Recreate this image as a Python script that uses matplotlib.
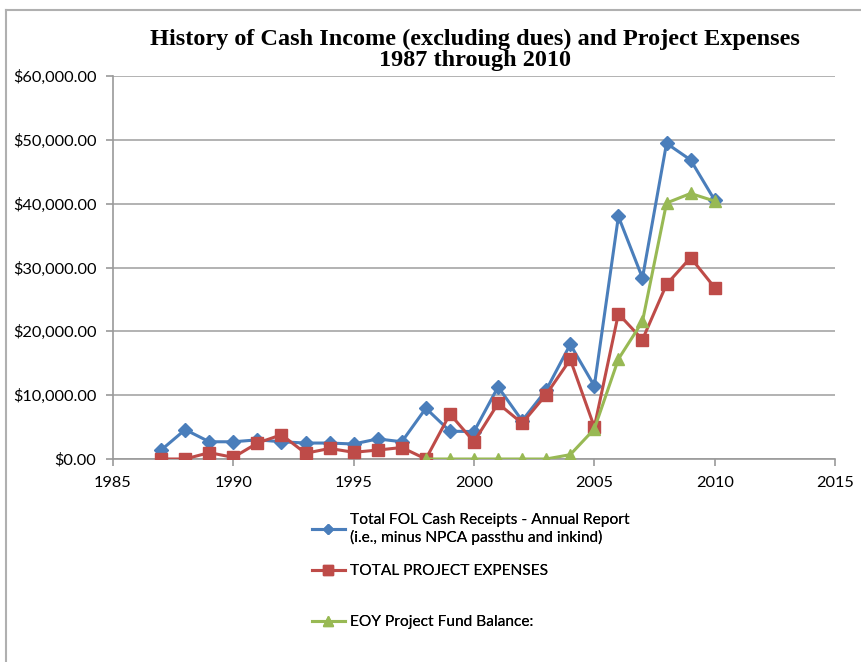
import matplotlib
matplotlib.use("Agg")
import matplotlib.pyplot as plt
from matplotlib.lines import Line2D
from matplotlib.ticker import FuncFormatter

years = list(range(1987, 2011))
receipts = [1400, 4600, 2700, 2700, 3000, 2700, 2500, 2500, 2350, 3150, 2700, 7950,
            4350, 4300, 11300, 6000, 10800, 17950, 11450, 38000, 28350, 49450, 46850, 40550]
expenses = [0, 0, 1000, 250, 2500, 3800, 900, 1650, 1050, 1400, 1800, 0,
            7050, 2700, 8700, 5600, 10100, 15600, 5000, 22750, 18700, 27350, 31550, 26850]
bal_years = list(range(1998, 2011))
balance = [0, 0, 0, 0, 0, 0, 680, 4700, 15650, 21550, 40100, 41600, 40400]

labels = ["Total FOL Cash Receipts - Annual Report\n(i.e., minus NPCA passthu and inkind)",
          "TOTAL PROJECT EXPENSES",
          "EOY Project Fund Balance:"]
title = "History of Cash Income (excluding dues) and Project Expenses\n1987 through 2010"

c_blue = "#4A7EBB"
c_red = "#BE4B48"
c_green = "#98B954"
sans = ["Lato", "DejaVu Sans"]

fig = plt.figure(figsize=(8.62, 6.62), dpi=100)
ax = fig.add_axes([113/862, 1-459/662, (835-113)/862, (459-76)/662])

ax.plot(years, receipts, color=c_blue, lw=2.2, marker="D", ms=7, zorder=3)
ax.plot(years, expenses, color=c_red, lw=2.2, marker="s", ms=8.5, zorder=4)
ax.plot(bal_years, balance, color=c_green, lw=2.2, marker="^", ms=9, zorder=5)

ax.set_xlim(1985, 2015)
ax.set_ylim(0, 60000)
ax.set_xticks(range(1985, 2016, 5))
ax.set_yticks(range(0, 60001, 10000))
ax.yaxis.set_major_formatter(FuncFormatter(lambda v, p: "${:,.2f}".format(v)))
ax.grid(axis="y", color="#A6A6A6", lw=1.2)
ax.set_axisbelow(True)
for s in ["top", "right"]:
    ax.spines[s].set_visible(False)
for s in ["left", "bottom"]:
    ax.spines[s].set_color("#9A9A9A")
    ax.spines[s].set_linewidth(1.2)
ax.tick_params(axis="both", direction="out", length=5, color="#9A9A9A", width=1.2,
               labelsize=11.8, labelcolor="black")
ax.tick_params(axis="y", pad=7)
ax.tick_params(axis="x", pad=7)
for t in ax.get_xticklabels() + ax.get_yticklabels():
    t.set_family(sans)

fig.text(475/862, 1-50/662, title, ha="center", va="center", fontsize=17.5,
         fontweight="bold", family=["Liberation Serif", "DejaVu Serif"], linespacing=0.95)

# border
fig.add_artist(Line2D([6/862, 1.0], [1-10/662, 1-10/662], color="#B0B0B0", lw=1.5))
fig.add_artist(Line2D([6/862, 6/862], [0, 1-10/662], color="#B0B0B0", lw=1.5))

handles = [Line2D([], [], color=c_blue, lw=2.2, marker="D", ms=5),
           Line2D([], [], color=c_red, lw=2.2, marker="s", ms=7),
           Line2D([], [], color=c_green, lw=2.2, marker="^", ms=7)]
ypos = [529, 571, 622]
for h, lab, yp in zip(handles, labels, ypos):
    leg = fig.legend([h], [lab], loc="center left", bbox_to_anchor=(312/862, 1-yp/662),
                     frameon=False, handlelength=2.1, handletextpad=0.35,
                     prop={"family": sans, "size": 11.2}, borderaxespad=0, borderpad=0)
    fig.add_artist(leg)

fig.savefig("out.png", dpi=100)
